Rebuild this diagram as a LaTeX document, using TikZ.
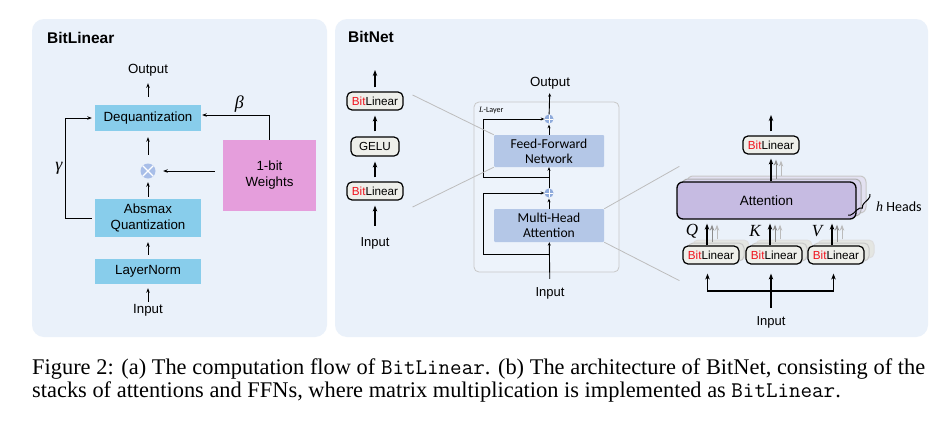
\documentclass[tikz,border=0pt]{standalone}
\usepackage{fontspec}
\setmainfont{Liberation Serif}
\setsansfont{Liberation Sans}
\newfontfamily\calibri{Carlito}
\newfontfamily\greekit[Scale=1]{Liberation Serif}
\usetikzlibrary{positioning,calc,arrows.meta,decorations.pathreplacing}

\definecolor{panelbg}{HTML}{EAF1FA}
\definecolor{skyblock}{HTML}{88CDEB}
\definecolor{pinkblock}{HTML}{E59EDC}
\definecolor{mixblue}{HTML}{A8BEE8}
\definecolor{layerblue}{HTML}{B4C7E7}
\definecolor{addblue}{HTML}{8EAADB}
\definecolor{attpurple}{HTML}{C6BBE2}
\definecolor{attback1}{HTML}{D8D2EC}
\definecolor{attback2}{HTML}{E3E1F1}
\definecolor{linfill}{HTML}{EEEFEA}
\definecolor{linback}{HTML}{E4E6E2}
\definecolor{guidegray}{HTML}{BDBDBD}
\definecolor{framegray}{HTML}{C8C8C8}
\definecolor{framefill}{HTML}{EDF3FB}
\definecolor{midarrow}{HTML}{8C8C8C}
\definecolor{lightarrow}{HTML}{BBBBBB}
\definecolor{bitred}{HTML}{F0141E}

\newcommand{\bitlin}{\textcolor{bitred}{Bit}Linear}
\newcommand{\fsz}[2]{\fontsize{#1}{#2}\selectfont}

\begin{document}
\begin{tikzpicture}[x=1pt, y=-1pt,
    plain text/.style={font=\sffamily\fsz{13.3}{15.5}, inner sep=2pt},
    title text/.style={font=\sffamily\bfseries\fsz{15.5}{18}, anchor=west, inner sep=0pt},
    sym text/.style={font=\greekit\itshape\fsz{18}{18}, inner sep=1pt},
    blue box/.style={fill=skyblock, minimum width=106pt, align=center,
                     font=\sffamily\fsz{13.3}{15.7}},
    pink box/.style={fill=pinkblock, minimum width=93pt, minimum height=71pt, align=center,
                     font=\sffamily\fsz{13.3}{16}},
    times node/.style={circle, fill=mixblue, minimum size=15pt, inner sep=0pt,
      path picture={\draw[white, line width=1.3pt]
        (path picture bounding box.north west) -- (path picture bounding box.south east)
        (path picture bounding box.north east) -- (path picture bounding box.south west);}},
    plus node/.style={circle, fill=addblue, minimum size=9pt, inner sep=0pt,
      path picture={\draw[white, line width=0.8pt]
        (path picture bounding box.north) -- (path picture bounding box.south)
        (path picture bounding box.east) -- (path picture bounding box.west);}},
    layer box/.style={fill=layerblue, minimum width=110pt, minimum height=32pt, align=center,
                      rounded corners=1pt, font=\calibri\fsz{13.6}{15}},
    lin box/.style={draw, line width=1.2pt, rounded corners=5pt, fill=linfill,
                    minimum width=56pt, minimum height=18pt, inner sep=1pt,
                    font=\sffamily\fsz{11.7}{13}},
    lin back/.style={draw=framegray, line width=1pt, rounded corners=5pt, fill=linback,
                     minimum width=56pt, minimum height=18pt},
    att box/.style={draw, line width=1.3pt, rounded corners=6pt, fill=attpurple,
                    minimum width=179pt, minimum height=37pt, font=\sffamily\fsz{13.5}{15}},
    att back/.style={line width=1pt, rounded corners=6pt,
                     minimum width=179pt, minimum height=37pt},
    arr/.style={-{Stealth[length=4.5pt,width=3.5pt]}, line width=0.8pt},
    small arr/.style={-{Stealth[length=3.5pt,width=3pt]}, line width=0.9pt},
    thick arr/.style={-{Stealth[length=6pt,width=4.5pt]}, line width=1.3pt},
    guide line/.style={guidegray, line width=0.8pt}]

  \fill[white] (0,0) rectangle (943,426);
  \useasboundingbox (0,0) rectangle (943,426);

  % panels
  \fill[panelbg, rounded corners=12pt] (32,19) rectangle (327,337);
  \fill[panelbg, rounded corners=12pt] (335,19) rectangle (928,337);
  \node[title text] (t1) at (47,38) {BitLinear};
  \node[title text] (t2) at (348,37) {BitNet};

  % (a) BitLinear
  \node[blue box, minimum height=26pt] (dq) at (148,118) {Dequantization};
  \node[times node] (mul) at (148,171) {};
  \node[blue box, minimum height=38pt] (aq) at (148,218) {Absmax\\Quantization};
  \node[blue box, minimum height=25pt] (ln) at (148,271.5) {LayerNorm};
  \node[pink box] (wt) at (269.5,175.5) {1-bit\\Weights};
  \node[plain text] (out1) at (148,70) {Output};
  \node[plain text] (in1) at (148,310) {Input};

  \draw[arr, shorten <=8pt, shorten >=5pt] (dq) -- (out1);
  \draw[arr, shorten <=8.5pt, shorten >=6pt] (mul) -- (dq);
  \draw[arr, shorten <=2pt, shorten >=3.5pt] (aq) -- (mul);
  \draw[arr, shorten <=4pt, shorten >=5pt] (ln) -- (aq);
  \draw[arr, shorten >=4pt] (in1) -- (ln);
  \draw[arr, shorten <=8pt, shorten >=7.5pt] (wt.west |- mul) -- (mul);
  \draw[arr, shorten >=1pt] (wt.north) |- node[pos=0.72, above=1pt, sym text] {β} ([yshift=3pt]dq.east);
  \draw[arr, shorten <=3pt, shorten >=3pt] (aq.west) -- ++(-29,0)
    |- node[pos=0.25, left=2pt, sym text] {γ} (dq.west);

  % (b) BitNet: feed-forward column
  \node[lin box] (fl2) at (375,101) {\bitlin};
  \node[lin box, minimum width=48pt, minimum height=19pt] (gelu) at (375,146.5) {GELU};
  \node[lin box] (fl1) at (375,191) {\bitlin};
  \node[plain text, font=\sffamily\fsz{13}{15}] (fin) at (375,243) {Input};
  \coordinate (fout) at (375,70);

  \draw[thick arr, shorten <=4pt] (fl2) -- (fout);
  \draw[thick arr, shorten <=5pt, shorten >=5pt] (gelu) -- (fl2);
  \draw[thick arr, shorten <=4pt, shorten >=5pt] (fl1) -- (gelu);
  \draw[thick arr, shorten <=9pt, shorten >=5pt] (fin) -- (fl1);

  % L-layer stack
  \node[draw=framegray, line width=0.8pt, rounded corners=5pt, fill=framefill,
        minimum width=145pt, minimum height=170pt] (lyr) at (546.5,187) {};
  \node[font=\calibri\fsz{8}{8}, anchor=west, inner sep=0pt] (lyrlbl) at (479,111) {{\greekit\itshape L}-Layer};
  \node[plain text] (out2) at (550,83) {Output};
  \node[plus node] (pl1) at (549,119) {};
  \node[layer box] (ffn) at (549,151) {Feed-Forward\\Network};
  \node[plus node] (pl2) at (549,193) {};
  \node[layer box, minimum height=33pt] (mha) at (549,225.5) {Multi-Head\\Attention};
  \node[plain text, font=\sffamily\fsz{13}{15}] (in2) at (550,293) {Input};

  \draw[small arr, shorten >=2pt] (pl1) -- (out2);
  \draw[small arr, shorten >=1pt] (ffn) -- (pl1);
  \draw[small arr] (pl2) -- (ffn);
  \draw[small arr, shorten >=1pt] (mha) -- (pl2);
  \draw[small arr, shorten <=6pt] (in2) -- (mha);
  \coordinate (ffnbr) at ($(pl2.north)!0.5!(ffn.south)$);
  \coordinate (mhabr) at ($(mha.south)+(0,12)$);
  \draw[small arr] (ffnbr) -- ++(-66,0) |- (pl1);
  \draw[small arr] (mhabr) -- ++(-66,0) |- (pl2);

  % multi-head attention
  \node[att back, draw=framegray, fill=attback2] (attc) at (776.5,194.5) {};
  \node[att back, draw=midarrow!70, fill=attback1] (attb) at (771.5,197.5) {};
  \node[att box] (att) at (766.5,200.5) {Attention};
  \node[lin box] (blo) at (771,145) {\bitlin};
  \coordinate (aout) at (771,115);

  \draw[thick arr, shorten <=4pt] (blo) -- (aout);
  \draw[thick arr, line width=1pt, lightarrow] ($(attc.north -| blo.south)+(10,0)$) -- ($(blo.south)+(10,6)$);
  \draw[thick arr, line width=1pt, midarrow] ($(attb.north -| blo.south)+(5,0)$) -- ($(blo.south)+(5,5)$);
  \draw[thick arr, shorten >=4pt] (att.north -| blo) -- (blo);

  \foreach \nm/\x in {blq/711, blk/774, blv/836}{
    \node[lin back, draw=framegray!60] at (\x+10,249) {};
    \node[lin back] at (\x+5,252) {};
    \node[lin box] (\nm) at (\x,255) {\bitlin};
    \draw[thick arr, line width=1pt, lightarrow] ($(\nm.north)+(6,-6)$) -- ($(\nm.north |- att.south)+(6,5)$);
    \draw[thick arr, line width=1pt, midarrow] ($(\nm.north)+(1,-3)$) -- ($(\nm.north |- att.south)+(1,5)$);
    \draw[thick arr] ($(\nm.north)+(-4,0)$) -- ($(\nm.north |- att.south)+(-4,4)$);
  }
  \node[sym text, font=\greekit\itshape\fsz{17}{17}] (lq) at ($(blq.north)+(-19,-14)$) {Q};
  \node[sym text, font=\greekit\itshape\fsz{17}{17}] (lk) at ($(blk.north)+(-19,-14)$) {K};
  \node[sym text, font=\greekit\itshape\fsz{17}{17}] (lv) at ($(blv.north)+(-19,-14)$) {V};

  \draw[line width=1pt, decorate, decoration={brace, amplitude=5pt, mirror}] (848,215) -- (870,194);
  \node[font=\calibri\fsz{14}{15}, anchor=west, inner sep=0pt] (hh) at (876,207) {{\greekit\itshape h} Heads};

  \node[plain text, font=\sffamily\fsz{13}{15}] (in3) at (771,322) {Input};
  \coordinate (split) at (771,291);
  \draw[thick arr, shorten <=6pt, shorten >=9pt] (in3) -- (in3 |- blk.south);
  \draw[thick arr, shorten >=9pt] (split) -| ($(blq.south)+(-3.5,0)$);
  \draw[thick arr, shorten >=9pt] (split) -| ($(blv.south)+(-2.5,0)$);

  % guide lines
  \draw[guide line] ([xshift=9pt,yshift=6pt]fl2.east) -- (ffn.north west);
  \draw[guide line] ([xshift=9pt,yshift=-16pt]fl1.east) -- (ffn.south west);
  \draw[guide line] (mha.north east) -- ([xshift=3pt,yshift=15pt]att.north west);
  \draw[guide line] (mha.south east) -- ([xshift=-3pt,yshift=-16pt]blq.south west);

  % caption
  \node[anchor=base west, inner sep=0pt, font=\rmfamily\fsz{22.4}{24}] (cap1) at (32,374)
    {\makebox[893pt][s]{Figure 2: (a) The computation flow of \texttt{BitLinear}. (b) The architecture of BitNet, consisting of the}};
  \node[anchor=base west, inner sep=0pt, font=\rmfamily\fsz{22.4}{24}] (cap2) at (32,397.5)
    {stacks of attentions and FFNs, where matrix multiplication is implemented as \texttt{BitLinear}.};
\end{tikzpicture}
\end{document}
